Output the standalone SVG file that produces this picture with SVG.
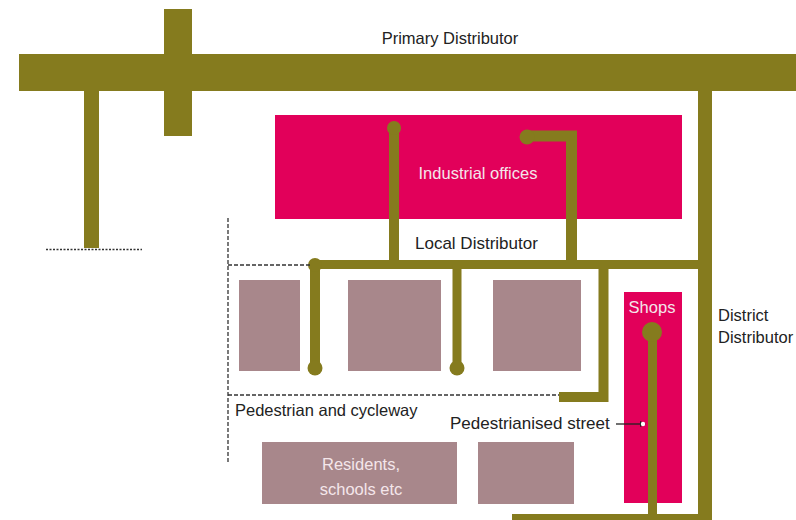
<svg xmlns="http://www.w3.org/2000/svg" width="796" height="520" viewBox="0 0 796 520">
<style>
.road{fill:#857b1e}
.rl{stroke:#857b1e;fill:none;stroke-linecap:butt}
.dot{fill:#857b1e}
.ind{fill:#e2005a}
.blk{fill:#a8878b}
.dash{stroke:#333;stroke-width:1.3;stroke-dasharray:4 2;fill:none}
.t{font-family:"Liberation Sans",Arial,sans-serif;font-size:16.5px;fill:#222}
.tw{font-family:"Liberation Sans",Arial,sans-serif;font-size:16.5px;fill:#f4e6ea}
</style>
<defs>
<marker id="ah" viewBox="0 0 6 6" refX="5" refY="3" markerWidth="5" markerHeight="5" orient="auto"><path d="M0,0 L6,3 L0,6 z" fill="#222"/></marker>
</defs>
<rect width="796" height="520" fill="#fff"/>
<g id="industrial-offices">
<rect class="ind" x="275" y="115" width="407" height="104"/>
<text class="tw" x="478" y="179" text-anchor="middle">Industrial offices</text>
</g>
<g id="shops">
<rect class="ind" x="624" y="292" width="58" height="211"/>
<text class="tw" x="652" y="313" text-anchor="middle">Shops</text>
</g>
<g id="block-1"><rect class="blk" x="239" y="280" width="61" height="91"/></g>
<g id="block-2"><rect class="blk" x="348" y="280" width="93" height="91"/></g>
<g id="block-3"><rect class="blk" x="493" y="280" width="88" height="91"/></g>
<g id="residents">
<rect class="blk" x="262" y="442" width="195" height="62"/>
<text class="tw" x="361" y="470" text-anchor="middle">Residents,</text>
<text class="tw" x="361" y="495" text-anchor="middle">schools etc</text>
</g>
<g id="block-5"><rect class="blk" x="478" y="442" width="96" height="62"/></g>
<g id="connectors">
<rect class="road" x="19" y="54" width="777" height="37"/>
<rect class="road" x="164" y="9" width="28" height="127"/>
<rect class="road" x="84" y="91" width="15" height="157"/>
<line x1="46" y1="249.5" x2="142" y2="249.5" stroke="#333" stroke-width="1.3" stroke-dasharray="2 1.5"/>
<rect class="road" x="698" y="91" width="14" height="429"/>
<rect class="road" x="512" y="514" width="200" height="6"/>
<rect class="road" x="313" y="260" width="385" height="9"/>
<path class="rl" stroke-width="10" d="M394,127 V262"/>
<circle class="dot" cx="394" cy="128" r="7"/>
<path class="rl" stroke-width="11" d="M527,136 H571.5 V262"/>
<circle class="dot" cx="527" cy="137" r="7.5"/>
<path class="rl" stroke-width="10" d="M315,265 V368"/>
<circle class="dot" cx="315" cy="265" r="7"/>
<circle class="dot" cx="315" cy="368" r="7.5"/>
<path class="rl" stroke-width="9" d="M457,265 V368"/>
<circle class="dot" cx="457" cy="368" r="7.5"/>
<path class="rl" stroke-width="10" d="M603.5,265 V397 H559"/>
<path class="rl" stroke-width="9" d="M652.5,331 V516"/>
<circle class="dot" cx="652" cy="332" r="10"/>
<path class="dash" d="M228,218 V462"/>
<path class="dash" d="M228,265 H310"/>
<path class="dash" d="M228,395 H559"/>
<line x1="616" y1="424" x2="645" y2="424" stroke="#222" stroke-width="1.3" marker-end="url(#ah)"/>
<circle cx="643" cy="424" r="2.2" fill="#fff"/>
</g>
<g id="labels">
<text class="t" x="450" y="44" text-anchor="middle">Primary Distributor</text>
<text class="t" x="415" y="249" style="font-size:17px">Local Distributor</text>
<text class="t" x="235" y="416">Pedestrian and cycleway</text>
<text class="t" x="450" y="429" style="font-size:17px">Pedestrianised street</text>
<text class="t" x="718" y="321">District</text>
<text class="t" x="718" y="343">Distributor</text>
</g>
</svg>
